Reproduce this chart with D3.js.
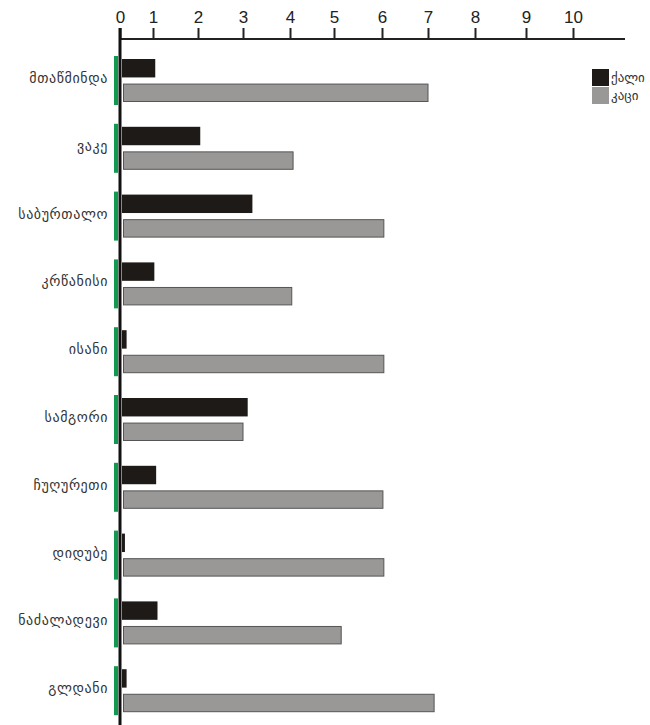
<!DOCTYPE html>
<html><head><meta charset="utf-8">
<script src="https://cdn.jsdelivr.net/npm/d3@7"></script>
<style>body{margin:0;background:#fff;}</style>
</head><body><svg id="c" width="650" height="725"></svg>
<script>
const categories = ["მთაწმინდა","ვაკე","საბურთალო","კრწანისი","ისანი","სამგორი","ჩუღურეთი","დიდუბე","ნაძალადევი","გლდანი"];
const female = [1.05, 2.05, 3.2, 1.03, 0.2, 3.1, 1.07, 0.15, 1.1, 0.2];
const male = [7.0, 4.07, 6.04, 4.04, 6.04, 3.0, 6.02, 6.04, 5.15, 7.13];
const seriesNames = ["ქალი","კაცი"];
const tickValues = [0,1,2,3,4,5,6,7,8,9,10];

const svg = d3.select("#c");
// the scanned axis has unevenly spaced ticks; follow them piecewise
const x = d3.scaleLinear()
  .domain([0,1,2,3,4,5,6,7,8,9,10,11.1])
  .range([120,153,198,243,290,334,382,428,475,526,573,625]);
const y = d3.scaleBand().domain(categories).range([49, 49 + 678]).padding(0);
const sub = d3.scaleBand().domain(["f","m"]).range([0, 43]).paddingInner(0.25);

// axis
const ax = svg.append("g").attr("transform","translate(0,39)")
  .call(d3.axisTop(x).tickValues(tickValues).tickSize(11).tickPadding(5).tickFormat(d3.format("d")));
ax.select(".domain").attr("stroke","#222").attr("stroke-width",2).attr("d",`M${x(0)},0H${x(11.1)}`);
ax.selectAll(".tick line").attr("stroke","#222").attr("stroke-width",2);
ax.selectAll(".tick text").attr("font-family","Liberation Sans, Arial, sans-serif").attr("font-size",17).attr("fill","#222");

// vertical axis
svg.append("line").attr("x1",x(0)).attr("x2",x(0)).attr("y1",28).attr("y2",725)
  .attr("stroke","#111").attr("stroke-width",3);

const g = svg.selectAll("g.grp").data(categories).join("g").attr("class","grp")
  .attr("transform", d => `translate(0,${y(d)+10})`);

// green markers
g.append("rect").attr("x",114).attr("y",-3).attr("width",4).attr("height",49).attr("fill","#13994f");

g.append("rect").attr("x",x(0)+2).attr("y",sub("f"))
  .attr("width",(d,i)=>Math.max(0,x(female[i])-x(0)-2)).attr("height",sub.bandwidth())
  .attr("fill","#1e1a18");
g.append("rect").attr("x",x(0)+3.5).attr("y",sub("m")+0.5)
  .attr("width",(d,i)=>x(male[i])-x(0)-3.5).attr("height",sub.bandwidth()-1)
  .attr("fill","#999897").attr("stroke","#555").attr("stroke-width",1);

g.append("text").attr("x",108).attr("y",20).attr("text-anchor","end").attr("dominant-baseline","middle")
  .attr("font-family","DejaVu Sans, sans-serif").attr("font-size",14).attr("letter-spacing",0.6).attr("fill","#333")
  .text(d=>d);

// legend
const lg = svg.append("g").attr("transform","translate(592,69)");
const lcol = ["#1e1a18","#999897"];
seriesNames.forEach((s,i)=>{
  lg.append("rect").attr("x",0).attr("y",i*18).attr("width",17).attr("height",17).attr("fill",lcol[i]);
  lg.append("text").attr("x",19).attr("y",i*18+9).attr("dominant-baseline","middle")
    .attr("font-family","DejaVu Sans, sans-serif").attr("font-size",13).attr("fill","#333").text(s);
});
</script></body></html>
